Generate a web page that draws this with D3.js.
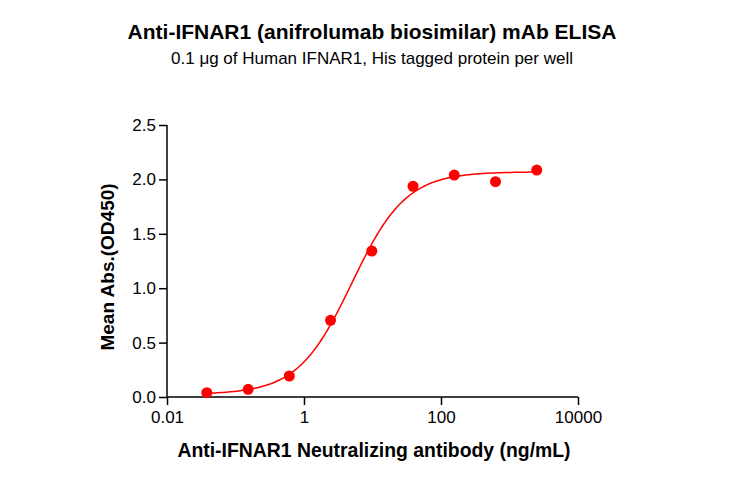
<!DOCTYPE html>
<html>
<head>
<meta charset="utf-8">
<script src="https://cdn.jsdelivr.net/npm/d3@7"></script>
<style>
  body { margin: 0; background: #fff; }
  text { font-family: "Liberation Sans", Arial, sans-serif; }
</style>
</head>
<body>
<div id="chart"></div>
<script>
// data
var conc = [0.0381, 0.153, 0.610, 2.44, 9.77, 39.06, 156.25, 625, 2500];
var od450 = [0.040, 0.071, 0.193, 0.705, 1.342, 1.937, 2.040, 1.979, 2.086];
var xTicks = [0.01, 1, 100, 10000];
var yTicks = [0.0, 0.5, 1.0, 1.5, 2.0, 2.5];

// 4PL fit parameters (estimated)
var fitBottom = 0.025, fitTop = 2.07, fitEC50 = 5.0, fitHill = 1.1;

var svgWidth = 730;
var svgHeight = 478;

var margin = { top: 125, right: 152, bottom: 81, left: 167 };
var width = svgWidth - margin.left - margin.right;
var height = svgHeight - margin.top - margin.bottom;

var svg = d3.select("#chart")
  .append("svg")
  .attr("width", svgWidth)
  .attr("height", svgHeight);

var chartGroup = svg.append("g")
  .attr("transform", `translate(${margin.left}, ${margin.top})`);

// scales
var xScale = d3.scaleLog()
  .domain([0.01, 10000])
  .range([0, width]);

var yScale = d3.scaleLinear()
  .domain([0, 2.5])
  .range([height, 0]);

// axes
var bottomAxis = d3.axisBottom(xScale)
  .tickValues(xTicks)
  .tickSize(8)
  .tickPadding(6)
  .tickFormat(d => d3.format("~g")(d));

var leftAxis = d3.axisLeft(yScale)
  .tickValues(yTicks)
  .tickSize(8)
  .tickPadding(3)
  .tickFormat(d3.format(".1f"));

var xAxisG = chartGroup.append("g")
  .attr("transform", `translate(0, ${height})`)
  .call(bottomAxis);

var yAxisG = chartGroup.append("g")
  .call(leftAxis);

[xAxisG, yAxisG].forEach(function(g) {
  g.select(".domain").attr("stroke", "#000").attr("stroke-width", 1.5);
  g.selectAll(".tick line").attr("stroke", "#000").attr("stroke-width", 1.5);
  g.selectAll(".tick text")
    .attr("fill", "#000")
    .style("font-size", "17px")
    .style("font-family", "'Liberation Sans', Arial, sans-serif");
});
xAxisG.select(".domain").attr("d", `M0,0H${width}`);
yAxisG.select(".domain").attr("d", `M0,0V${height}`);

// fitted curve
function fourPL(x) {
  return fitBottom + (fitTop - fitBottom) / (1 + Math.pow(fitEC50 / x, fitHill));
}
var logMin = Math.log10(conc[0]), logMax = Math.log10(conc[conc.length - 1]);
var curveX = d3.range(0, 201).map(i => Math.pow(10, logMin + (logMax - logMin) * i / 200));

var line = d3.line()
  .x(d => xScale(d))
  .y(d => yScale(fourPL(d)));

chartGroup.append("path")
  .datum(curveX)
  .attr("fill", "none")
  .attr("stroke", "#ff0000")
  .attr("stroke-width", 1.5)
  .attr("d", line);

// points
chartGroup.selectAll("circle")
  .data(conc)
  .enter()
  .append("circle")
  .attr("cx", d => xScale(d))
  .attr("cy", (d, i) => yScale(od450[i]))
  .attr("r", 5.5)
  .attr("fill", "#ff0000");

// titles
svg.append("text")
  .attr("x", 372)
  .attr("y", 39)
  .attr("text-anchor", "middle")
  .style("font-size", "21px")
  .style("font-weight", "bold")
  .text("Anti-IFNAR1 (anifrolumab biosimilar) mAb ELISA");

svg.append("text")
  .attr("x", 372)
  .attr("y", 64)
  .attr("text-anchor", "middle")
  .style("font-size", "17px")
  .text("0.1 \u03bcg of Human IFNAR1, His tagged protein per well");

// axis labels
svg.append("text")
  .attr("transform", `translate(114, 267) rotate(-90)`)
  .attr("text-anchor", "middle")
  .style("font-size", "19px")
  .style("font-weight", "bold")
  .text("Mean Abs.(OD450)");

svg.append("text")
  .attr("x", 374)
  .attr("y", 457)
  .attr("text-anchor", "middle")
  .style("font-size", "19.4px")
  .style("font-weight", "bold")
  .text("Anti-IFNAR1 Neutralizing antibody (ng/mL)");
</script>
</body>
</html>
